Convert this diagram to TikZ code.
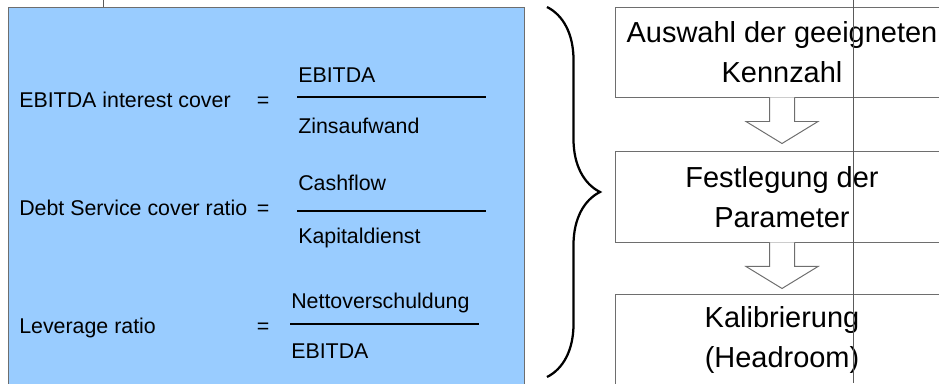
\documentclass[tikz,border=0pt]{standalone}
\usepackage{fontspec}
\setmainfont{Liberation Sans}
\usepackage{tikz}
\usetikzlibrary{decorations.pathreplacing, positioning, calc}

\begin{document}
\begin{tikzpicture}[
        kenntext/.style={inner sep=0pt, font=\fontsize{15.2}{18}\selectfont},
        bruchstrich/.style={line width=1.8pt},
        schrittbox/.style={draw=rahmengrau, line width=0.7pt, minimum width=8.35cm, minimum height=2.25cm,
            align=center, font=\fontsize{20.6}{28.4}\selectfont},
        blockpfeil/.style={draw=rahmengrau, line width=0.7pt, fill=white},
        hilfslinie/.style={draw=linie, line width=0.6pt}
    ]
        % Farben
        \definecolor{kennblau}{RGB}{153, 204, 255}
        \definecolor{rahmengrau}{RGB}{110, 110, 110}
        \definecolor{linie}{RGB}{90, 90, 90}

        \clip (0, 0) rectangle (23.475, -9.575);

        % 1. Blauer Kasten mit den Kennzahlen
        \node[draw=rahmengrau, line width=0.7pt, fill=kennblau, anchor=north west, inner sep=0pt,
            minimum width=12.9cm, minimum height=10cm] (kennzahlen) at (0.2, -0.175) {};

        % Name / Grundlinie Name / Bruchstrich y / Zaehler / Nenner / Strich links / Strich rechts
        \foreach \kz/\by/\ly/\zy/\ny/\lx/\rx/\zaehler/\nenner [count=\i] in {
            EBITDA interest cover/-2.675/-2.425/-2.05/-3.325/7.425/12.15/EBITDA/Zinsaufwand,
            Debt Service cover ratio/-5.375/-5.275/-4.75/-6.075/7.425/12.15/Cashflow/Kapitaldienst,
            Leverage ratio/-8.325/-8.1/-7.7/-8.95/7.25/11.975/Nettoverschuldung/EBITDA} {
            \node[kenntext, anchor=base west] (name\i) at (0.475, \by) {\kz};
            \node[kenntext, anchor=base] (gleich\i) at (6.575, \by) {=};
            \node[kenntext, anchor=base west] (zaehler\i) at (\lx + 0.025, \zy) {\zaehler};
            \node[kenntext, anchor=base west] (nenner\i) at (\lx + 0.025, \ny) {\nenner};
            \coordinate (strich\i-l) at (\lx, \ly);
            \coordinate (strich\i-r) at (\rx, \ly);
            \draw[bruchstrich] (strich\i-l) -- (strich\i-r);
        }

        % 2. Geschweifte Klammer
        \coordinate (klammer-o) at (13.675, -0.175);
        \coordinate (klammer-u) at (13.675, -9.425);
        \draw[decorate, decoration={brace, amplitude=1.325cm}, line width=1.6pt]
            (klammer-o) -- (klammer-u);

        % 3. Ablauf rechts
        \node[schrittbox] (schritt1) at (19.55, -1.3) {Auswahl der geeigneten\\Kennzahl};
        \node[schrittbox, below=1.35cm of schritt1] (schritt2) {Festlegung der\\Parameter};
        \node[schrittbox, below=1.3cm of schritt2] (schritt3) {Kalibrierung\\(Headroom)};

        % Hohlpfeile zwischen den Schritten
        \foreach \oben in {schritt1, schritt2} {
            \draw[blockpfeil] ($(\oben.south) + (-0.3125, 0)$) -- ++(0, -0.6) -- ++(-0.5875, 0)
                -- ($(\oben.south) + (0, -1.15)$) -- ++(0.9, 0.55) -- ++(-0.5875, 0) -- ++(0, 0.6);
        }

        % 4. Hilfslinien
        \coordinate (linie1-o) at (21.325, 0);
        \coordinate (linie1-u) at (21.325, -9.575);
        \draw[hilfslinie] (linie1-o) -- (linie1-u);
        \coordinate (linie2-o) at (2.575, 0);
        \draw[hilfslinie] (linie2-o) -- (kennzahlen.north west -| linie2-o);

    \end{tikzpicture}
\end{document}
